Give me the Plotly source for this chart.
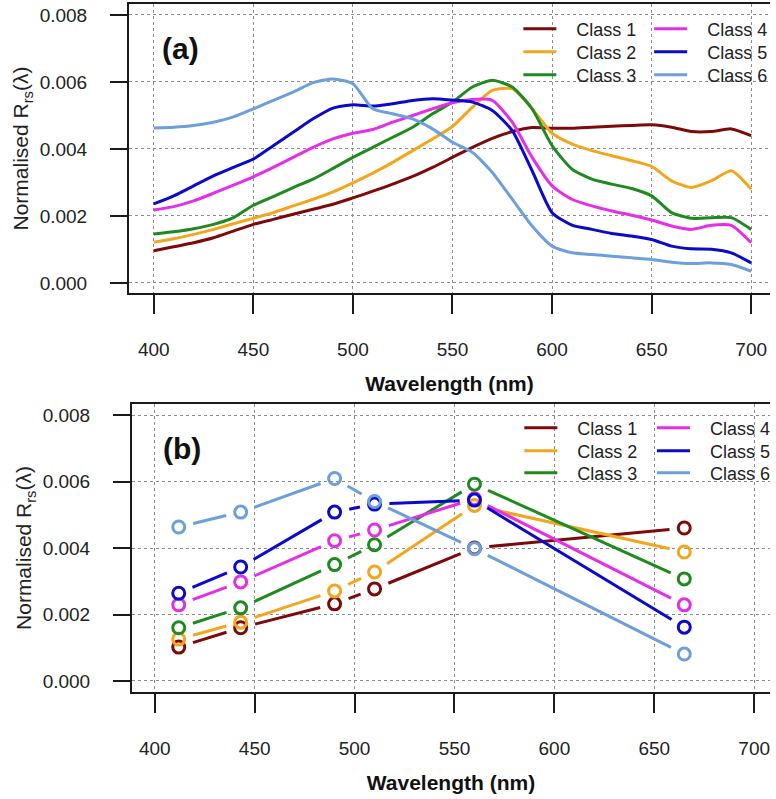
import plotly.graph_objects as go

# ---------------- data ----------------
wl = [400, 410, 420, 430, 440, 450, 460, 470, 480, 490, 500, 510, 520, 530, 540, 550,
      560, 570, 580, 590, 600, 610, 620, 630, 640, 650, 660, 670, 680, 690, 700]

class1 = [0.00096, 0.00108, 0.00120, 0.00135, 0.00155, 0.00175, 0.00190, 0.00205, 0.00220, 0.00235,
          0.00254, 0.00274, 0.00295, 0.00318, 0.00345, 0.00375, 0.00405, 0.00432, 0.00452, 0.00464,
          0.00462, 0.00462, 0.00465, 0.00468, 0.00470, 0.00472, 0.00465, 0.00452, 0.00452, 0.00460, 0.00440]
class2 = [0.00122, 0.00132, 0.00145, 0.00160, 0.00177, 0.00193, 0.00210, 0.00230, 0.00250, 0.00272,
          0.00299, 0.00328, 0.00360, 0.00395, 0.00430, 0.00467, 0.00525, 0.00575, 0.00580, 0.00520,
          0.00447, 0.00415, 0.00395, 0.00380, 0.00365, 0.00348, 0.00305, 0.00285, 0.00305, 0.00335, 0.00280]
class3 = [0.00146, 0.00153, 0.00162, 0.00175, 0.00195, 0.00232, 0.00258, 0.00285, 0.00310, 0.00342,
          0.00375, 0.00405, 0.00435, 0.00465, 0.00505, 0.00540, 0.00585, 0.00605, 0.00585, 0.00520,
          0.00410, 0.00340, 0.00310, 0.00295, 0.00282, 0.00260, 0.00210, 0.00193, 0.00195, 0.00195, 0.00160]
class4 = [0.00218, 0.00228, 0.00245, 0.00268, 0.00292, 0.00317, 0.00345, 0.00375, 0.00405, 0.00430,
          0.00447, 0.00458, 0.00480, 0.00500, 0.00520, 0.00538, 0.00548, 0.00545, 0.00480, 0.00375,
          0.00290, 0.00250, 0.00230, 0.00215, 0.00202, 0.00188, 0.00170, 0.00160, 0.00172, 0.00172, 0.00120]
class5 = [0.00236, 0.00260, 0.00290, 0.00320, 0.00345, 0.00370, 0.00410, 0.00450, 0.00490, 0.00522,
          0.00532, 0.00528, 0.00535, 0.00545, 0.00550, 0.00546, 0.00540, 0.00515, 0.00455, 0.00335,
          0.00210, 0.00173, 0.00160, 0.00148, 0.00140, 0.00130, 0.00110, 0.00102, 0.00101, 0.00090, 0.00060]
class6 = [0.00463, 0.00465, 0.00470, 0.00480, 0.00496, 0.00520, 0.00545, 0.00570, 0.00598, 0.00609,
          0.00595, 0.00520, 0.00505, 0.00490, 0.00460, 0.00420, 0.00390, 0.00330, 0.00250, 0.00170,
          0.00110, 0.00090, 0.00085, 0.00080, 0.00075, 0.00070, 0.00062, 0.00058, 0.00060, 0.00055, 0.00035]

bands = [412, 443, 490, 510, 560, 665]
b_class1 = [0.00102, 0.00160, 0.00232, 0.00277, 0.00400, 0.00460]
b_class2 = [0.00126, 0.00177, 0.00271, 0.00328, 0.00528, 0.00388]
b_class3 = [0.00160, 0.00220, 0.00350, 0.00410, 0.00592, 0.00307]
b_class4 = [0.00229, 0.00298, 0.00422, 0.00454, 0.00548, 0.00229]
b_class5 = [0.00264, 0.00343, 0.00508, 0.00532, 0.00544, 0.00162]
b_class6 = [0.00463, 0.00508, 0.00609, 0.00540, 0.00398, 0.00081]

names = ["Class 1", "Class 2", "Class 3", "Class 4", "Class 5", "Class 6"]
colors = ["#7d0a0a", "#f2a61e", "#1f8a1f", "#e62ee6", "#0a0acd", "#6c9fdc"]

spectra = [class1, class2, class3, class4, class5, class6]
band_vals = [b_class1, b_class2, b_class3, b_class4, b_class5, b_class6]

yticks = [0.0, 0.002, 0.004, 0.006, 0.008]
xticks = [400, 450, 500, 550, 600, 650, 700]

# ---------------- layout geometry ----------------
W, H = 776, 799
ML, MR, MT, MB = 129, 0, 4, 107
PW = W - ML - MR
PH = H - MT - MB

xa_range = [387.56, 709.45]
xb_range = [388.6, 707.9]
ya_range = [-0.000299, 0.008328]
yb_range = [-0.000331, 0.008331]
xa_dom = [0.0, 1.0]
xb_dom = [3 / PW, 1.0]
ya_dom = [(692 - 293) / PH, 1.0]
yb_dom = [0.0, (692 - 404) / PH]

FONT = "Liberation Sans, Arial, sans-serif"
PAD = "\u00a0\u00a0\u00a0"

fig = go.Figure()

# legend slots: (panel a) col1 rows 1-3, col2 rows 1-3 ; (panel b) same
leg_a = ["legend", "legend2", "legend3", "legend4", "legend5", "legend6"]
leg_b = ["legend7", "legend8", "legend9", "legend10", "legend11", "legend12"]

# panel (a)
for i in range(6):
    fig.add_trace(go.Scatter(
        x=wl, y=spectra[i], mode="lines", name=PAD + names[i],
        line=dict(color=colors[i], width=3, shape="spline", smoothing=0.6),
        xaxis="x", yaxis="y", legend=leg_a[i]))

# panel (b): R "type = b" style -> lines with gaps around the points
sx = (xb_dom[1] - xb_dom[0]) * PW / (xb_range[1] - xb_range[0])
sy = (yb_dom[1] - yb_dom[0]) * PH / (yb_range[1] - yb_range[0])
GAP = 15.0
for i in range(6):
    xs, ys = [], []
    v = band_vals[i]
    for k in range(len(bands) - 1):
        x0, x1, y0, y1 = bands[k], bands[k + 1], v[k], v[k + 1]
        L = (((x1 - x0) * sx) ** 2 + ((y1 - y0) * sy) ** 2) ** 0.5
        if L <= 2 * GAP:
            continue
        t0, t1 = GAP / L, 1 - GAP / L
        xs += [x0 + t0 * (x1 - x0), x0 + t1 * (x1 - x0), None]
        ys += [y0 + t0 * (y1 - y0), y0 + t1 * (y1 - y0), None]
    fig.add_trace(go.Scatter(
        x=xs, y=ys, mode="lines", name=PAD + names[i],
        line=dict(color=colors[i], width=3),
        xaxis="x2", yaxis="y2", legend=leg_b[i]))
for i in range(6):
    fig.add_trace(go.Scatter(
        x=bands, y=band_vals[i], mode="markers", showlegend=False,
        marker=dict(symbol="circle-open", size=12, color=colors[i], line=dict(width=3, color=colors[i])),
        xaxis="x2", yaxis="y2"))

axis_common = dict(
    showline=True, linecolor="#1a1a1a", linewidth=2,
    ticks="outside", tickcolor="#1a1a1a", tickwidth=2,
    showgrid=True, gridcolor="#8c8c8c", griddash="dot", gridwidth=1.3,
    zeroline=False, tickfont=dict(family=FONT, size=19, color="#222"),
    automargin=False,
)

xt = dict(axis_common, tickvals=xticks, ticklen=19, mirror=True, ticklabelstandoff=19,
          title=dict(text="<b>Wavelength (nm)</b>", font=dict(family=FONT, size=21, color="#111"), standoff=18))
yt = dict(axis_common, tickvals=yticks, ticktext=["%.3f" % t for t in yticks], ticklen=17,
          ticklabelstandoff=19,
          title=dict(text="Normalised R<sub>rs</sub>(λ)", font=dict(family=FONT, size=21, color="#222"), standoff=5))

leg_common = dict(bgcolor="rgba(0,0,0,0)", borderwidth=0, font=dict(family=FONT, size=18, color="#222"),
                  xanchor="left", yanchor="middle", orientation="v", itemwidth=33)


def leg(xpx, ypx):
    return dict(leg_common, x=(xpx - 5 - ML) / PW, y=(H - MB - ypx) / PH)


rows_a = [29, 52, 75]
rows_b = [428, 451, 473]
legends = {}
for r in range(3):
    legends[leg_a[r]] = leg(527, rows_a[r])
    legends[leg_a[r + 3]] = leg(659, rows_a[r])
    legends[leg_b[r]] = leg(528, rows_b[r])
    legends[leg_b[r + 3]] = leg(662, rows_b[r])

fig.update_layout(
    width=W, height=H,
    margin=dict(l=ML, r=MR, t=MT, b=MB),
    paper_bgcolor="white", plot_bgcolor="white",
    xaxis=dict(xt, domain=xa_dom, range=xa_range, anchor="y"),
    yaxis=dict(yt, domain=ya_dom, range=ya_range, anchor="x"),
    xaxis2=dict(xt, domain=xb_dom, range=xb_range, anchor="y2"),
    yaxis2=dict(yt, domain=yb_dom, range=yb_range, anchor="x2"),
    showlegend=True,
    annotations=[
        dict(text="<b>(a)</b>", x=(181 - ML) / PW, y=(293 - 48) / 289, xref="x domain", yref="y domain",
             showarrow=False, font=dict(family=FONT, size=30, color="#111"), xanchor="center", yanchor="middle"),
        dict(text="<b>(b)</b>", x=(183 - 132) / 644, y=(692 - 449) / 288, xref="x2 domain", yref="y2 domain",
             showarrow=False, font=dict(family=FONT, size=30, color="#111"), xanchor="center", yanchor="middle"),
    ],
    **legends,
)

fig.write_html("out.html", config={"displayModeBar": False},
               post_script="document.body.style.margin='0';document.body.style.overflow='hidden';")
